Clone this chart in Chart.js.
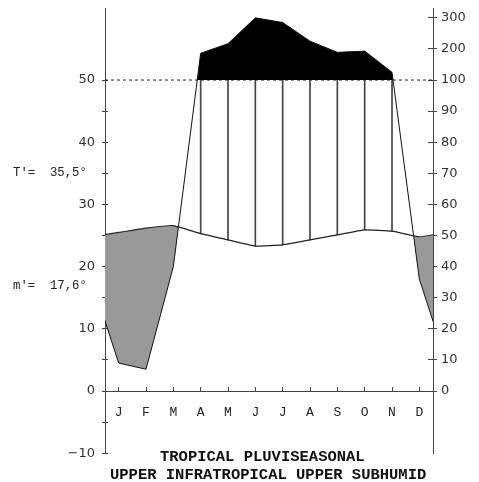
<!DOCTYPE html>
<html>
<head>
<meta charset="utf-8">
<script src="https://cdn.jsdelivr.net/npm/chart.js@4"></script>
<style>
  html, body { margin: 0; padding: 0; background: #fff; }
</style>
</head>
<body>
<canvas id="climChart" width="479" height="482"></canvas>
<script>
// monthly values
const months = ["J", "F", "M", "A", "M", "J", "J", "A", "S", "O", "N", "D"];
const tempMean = [25.5, 26.2, 26.6, 25.3, 24.3, 23.3, 23.5, 24.3, 25.1, 25.9, 25.7, 24.8]; // °C
const precip = [9, 7, 40, 186, 217, 300, 285, 225, 189, 193, 125, 36]; // mm
const tempTicks = [-10, -5, 0, 5, 10, 15, 20, 25, 30, 35, 40, 45, 50];
const precipTicks = [0, 10, 20, 30, 40, 50, 60, 70, 80, 90, 100, 200, 300];
const tMaxAbs = 35.5;  // T'
const mMinAbs = 17.6;  // m'
const titleLines = ["TROPICAL PLUVISEASONAL", "UPPER INFRATROPICAL UPPER SUBHUMID"];

const BREAK_MM = 100;
// 2 mm per °C up to 100 mm, then 20 mm per °C
function toAxis(p) {
  return p <= BREAK_MM ? p / 2 : BREAK_MM / 2 + (p - BREAK_MM) / 20;
}

// points at month centres, with Dec/Jan repeated outside so the curve wraps
function wrap(vals) {
  const pts = vals.map((v, i) => ({ x: i + 0.5, y: v }));
  pts.unshift({ x: -0.5, y: vals[vals.length - 1] });
  pts.push({ x: vals.length + 0.5, y: vals[0] });
  return pts;
}

const precipAxis = precip.map(toAxis);
const hatch = [];
precipAxis.forEach((p, i) => {
  if (p > tempMean[i]) hatch.push({ x: i + 0.5, y: [tempMean[i], Math.min(p, toAxis(BREAK_MM))] });
});

const axisColor = "#444";
const numFont = { family: "DejaVu Sans", size: 13 };
const yMin = -10, yMax = 61.5;

function noPad(s) { s.paddingTop = 0; s.paddingBottom = 0; s.paddingLeft = 0; s.paddingRight = 0; }

const annotate = {
  id: "annotate",
  afterDraw(chart) {
    const { ctx } = chart;
    const y = chart.scales.y;
    const fmt = v => v.toFixed(1).replace(".", ",");
    ctx.save();
    ctx.fillStyle = "#222";
    ctx.font = '12.3px "Liberation Mono"';
    ctx.textBaseline = "middle";
    ctx.fillText("T'=  " + fmt(tMaxAbs) + "°", 13, y.getPixelForValue(tMaxAbs) + 3);
    ctx.fillText("m'=  " + fmt(mMinAbs) + "°", 13, y.getPixelForValue(mMinAbs) + 4);
    ctx.fillStyle = "#111";
    ctx.font = 'bold 15.5px "Liberation Mono"';
    ctx.textBaseline = "alphabetic";
    ctx.fillText(titleLines[0], 160, 461);
    ctx.fillText(titleLines[1], 110, 479);
    ctx.restore();
  }
};

new Chart(document.getElementById("climChart"), {
  type: "line",
  data: {
    datasets: [
      {
        label: "Temperature",
        data: wrap(tempMean),
        borderColor: "#222",
        borderWidth: 1.2,
        pointRadius: 0,
        tension: 0.1,
        fill: false,
        order: 0,
        clip: 0
      },
      {
        label: "Precipitation",
        data: wrap(precipAxis),
        borderColor: "#111",
        borderWidth: 1,
        pointRadius: 0,
        fill: { target: { value: toAxis(BREAK_MM) }, above: "#000", below: "rgba(0,0,0,0)" },
        order: 1,
        clip: 0
      },
      {
        type: "bar",
        label: "Humid",
        data: hatch,
        backgroundColor: "#444",
        borderWidth: 0,
        barThickness: 1,
        order: 2
      },
      {
        label: "Arid",
        data: wrap(precipAxis),
        borderWidth: 0,
        borderColor: "rgba(0,0,0,0)",
        pointRadius: 0,
        fill: { target: 0, above: "rgba(0,0,0,0)", below: "#999" },
        order: 3,
        clip: 0
      },
      {
        label: "100 mm",
        data: [{ x: 0, y: toAxis(BREAK_MM) }, { x: months.length, y: toAxis(BREAK_MM) }],
        borderColor: "#222",
        borderWidth: 1,
        borderDash: [3, 3],
        pointRadius: 0,
        fill: false,
        order: 4
      }
    ]
  },
  options: {
    responsive: false,
    animation: false,
    devicePixelRatio: 1,
    layout: { padding: { left: 0, right: 0, top: 8.5, bottom: 28.8 } },
    plugins: { legend: { display: false }, tooltip: { enabled: false }, title: { display: false } },
    scales: {
      x: {
        type: "linear", axis: "x", min: 0, max: 12, offset: false,
        position: { y: 0 },
        ticks: { display: false, stepSize: 1 },
        grid: { drawOnChartArea: false, drawTicks: true, tickLength: -5, tickColor: axisColor },
        border: { color: axisColor, width: 1 },
        afterFit: noPad
      },
      xm: {
        type: "linear", axis: "x", min: 0, max: 12, offset: false,
        position: { y: 0 },
        afterBuildTicks: s => { s.ticks = months.map((m, i) => ({ value: i + 0.5 })); },
        ticks: {
          autoSkip: false, maxRotation: 0, padding: 14, color: "#222",
          font: { family: "Liberation Mono", size: 13 },
          callback: (v, i) => months[i]
        },
        grid: { display: false, drawTicks: false },
        border: { display: false },
        afterFit: noPad
      },
      y: {
        type: "linear", axis: "y", position: "left", min: yMin, max: yMax,
        afterBuildTicks: s => { s.ticks = tempTicks.map(v => ({ value: v })); },
        ticks: {
          autoSkip: false, padding: 7, color: "#333", font: numFont,
          callback: v => (v % 10 === 0 ? String(v).replace("-", "\u2212") : "")
        },
        grid: { drawOnChartArea: false, tickLength: 3, tickColor: axisColor },
        border: { color: axisColor, width: 1 },
        afterFit: s => { s.width = 105; noPad(s); }
      },
      yIn: {
        type: "linear", axis: "y", position: { x: 0 }, min: yMin, max: yMax,
        afterBuildTicks: s => { s.ticks = tempTicks.map(v => ({ value: v })); },
        ticks: { display: false },
        grid: { drawOnChartArea: false, tickLength: -3, tickColor: axisColor },
        border: { display: false },
        afterFit: noPad
      },
      yR: {
        type: "linear", axis: "y", position: "right", min: yMin, max: yMax,
        afterBuildTicks: s => { s.ticks = precipTicks.map(p => ({ value: toAxis(p) })); },
        ticks: {
          autoSkip: false, padding: 4, color: "#333", font: numFont,
          callback: (v, i) => String(precipTicks[i])
        },
        grid: { drawOnChartArea: false, tickLength: 4, tickColor: axisColor },
        border: { color: axisColor, width: 1 },
        afterFit: s => { s.width = 46; noPad(s); }
      },
      yRIn: {
        type: "linear", axis: "y", position: { x: 12 }, min: yMin, max: yMax,
        afterBuildTicks: s => { s.ticks = precipTicks.map(p => ({ value: toAxis(p) })); },
        ticks: { display: false },
        grid: { drawOnChartArea: false, tickLength: 5, tickColor: axisColor },
        border: { display: false },
        afterFit: noPad
      }
    }
  },
  plugins: [annotate]
});
</script>
</body>
</html>
